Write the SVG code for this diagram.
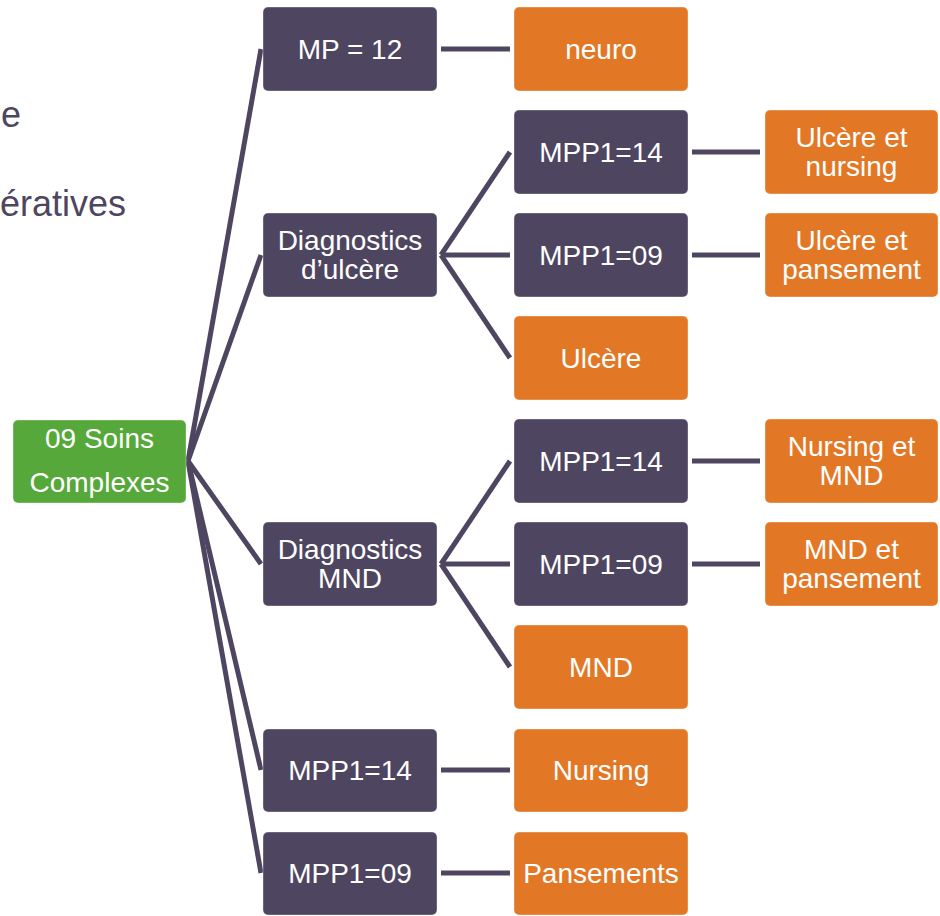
<svg xmlns="http://www.w3.org/2000/svg" width="940" height="916" viewBox="0 0 940 916">
<style>
.n rect{rx:5;ry:5;stroke:#ffffff;stroke-opacity:0.35;stroke-width:1}
.p rect{fill:#4E4660}
.o rect{fill:#E27826}
.g rect{fill:#56A83A}
text{font-family:"Liberation Sans",Arial,sans-serif;font-size:28px;fill:#ffffff;text-anchor:middle}
.bg{fill:#4E4660;text-anchor:end;font-size:36px}
#connectors line{stroke:#4E4660;stroke-width:5;stroke-linecap:butt}
</style>
<text class="bg" x="21" y="127">e</text>
<text class="bg" x="126" y="216">ératives</text>
<g id="connectors">
<line x1="188" y1="461" x2="261" y2="49"/>
<line x1="188" y1="461" x2="261" y2="255"/>
<line x1="188" y1="461" x2="261" y2="564"/>
<line x1="188" y1="461" x2="261" y2="770"/>
<line x1="188" y1="461" x2="261" y2="873"/>
<line x1="441" y1="49" x2="510" y2="49"/>
<line x1="441" y1="255" x2="510" y2="152"/>
<line x1="441" y1="255" x2="510" y2="255"/>
<line x1="441" y1="255" x2="510" y2="358"/>
<line x1="441" y1="564" x2="510" y2="461"/>
<line x1="441" y1="564" x2="510" y2="564"/>
<line x1="441" y1="564" x2="510" y2="667"/>
<line x1="441" y1="770" x2="510" y2="770"/>
<line x1="441" y1="873" x2="510" y2="873"/>
<line x1="692" y1="152" x2="760" y2="152"/>
<line x1="692" y1="255" x2="760" y2="255"/>
<line x1="692" y1="461" x2="760" y2="461"/>
<line x1="692" y1="564" x2="760" y2="564"/>
</g>
<g id="root" class="n g"><rect x="13" y="420" width="173" height="83"/><text x="99.5" y="448">09 Soins</text><text x="99.5" y="492">Complexes</text></g>
<g id="mp12" class="n p"><rect x="263" y="7" width="174" height="84"/><text x="350" y="59">MP = 12</text></g>
<g id="diag-ulcere" class="n p"><rect x="263" y="213" width="174" height="84"/><text x="350" y="250">Diagnostics</text><text x="350" y="279">d’ulcère</text></g>
<g id="diag-mnd" class="n p"><rect x="263" y="522" width="174" height="84"/><text x="350" y="559">Diagnostics</text><text x="350" y="588">MND</text></g>
<g id="mpp14-a" class="n p"><rect x="263" y="729" width="174" height="83"/><text x="350" y="780">MPP1=14</text></g>
<g id="mpp09-a" class="n p"><rect x="263" y="832" width="174" height="83"/><text x="350" y="883">MPP1=09</text></g>
<g id="neuro" class="n o"><rect x="514" y="7" width="174" height="84"/><text x="601" y="59">neuro</text></g>
<g id="mpp14-u" class="n p"><rect x="514" y="110" width="174" height="84"/><text x="601" y="162">MPP1=14</text></g>
<g id="mpp09-u" class="n p"><rect x="514" y="213" width="174" height="84"/><text x="601" y="265">MPP1=09</text></g>
<g id="ulcere" class="n o"><rect x="514" y="316" width="174" height="84"/><text x="601" y="368">Ulcère</text></g>
<g id="mpp14-m" class="n p"><rect x="514" y="419" width="174" height="84"/><text x="601" y="471">MPP1=14</text></g>
<g id="mpp09-m" class="n p"><rect x="514" y="522" width="174" height="84"/><text x="601" y="574">MPP1=09</text></g>
<g id="mnd" class="n o"><rect x="514" y="625" width="174" height="84"/><text x="601" y="677">MND</text></g>
<g id="nursing" class="n o"><rect x="514" y="729" width="174" height="83"/><text x="601" y="780">Nursing</text></g>
<g id="pansements" class="n o"><rect x="514" y="832" width="174" height="83"/><text x="601" y="883">Pansements</text></g>
<g id="ulcere-nursing" class="n o"><rect x="765" y="110" width="173" height="84"/><text x="851.5" y="147">Ulcère et</text><text x="851.5" y="176">nursing</text></g>
<g id="ulcere-pansement" class="n o"><rect x="765" y="213" width="173" height="84"/><text x="851.5" y="250">Ulcère et</text><text x="851.5" y="279">pansement</text></g>
<g id="nursing-mnd" class="n o"><rect x="765" y="419" width="173" height="84"/><text x="851.5" y="456">Nursing et</text><text x="851.5" y="485">MND</text></g>
<g id="mnd-pansement" class="n o"><rect x="765" y="522" width="173" height="84"/><text x="851.5" y="559">MND et</text><text x="851.5" y="588">pansement</text></g>
</svg>
